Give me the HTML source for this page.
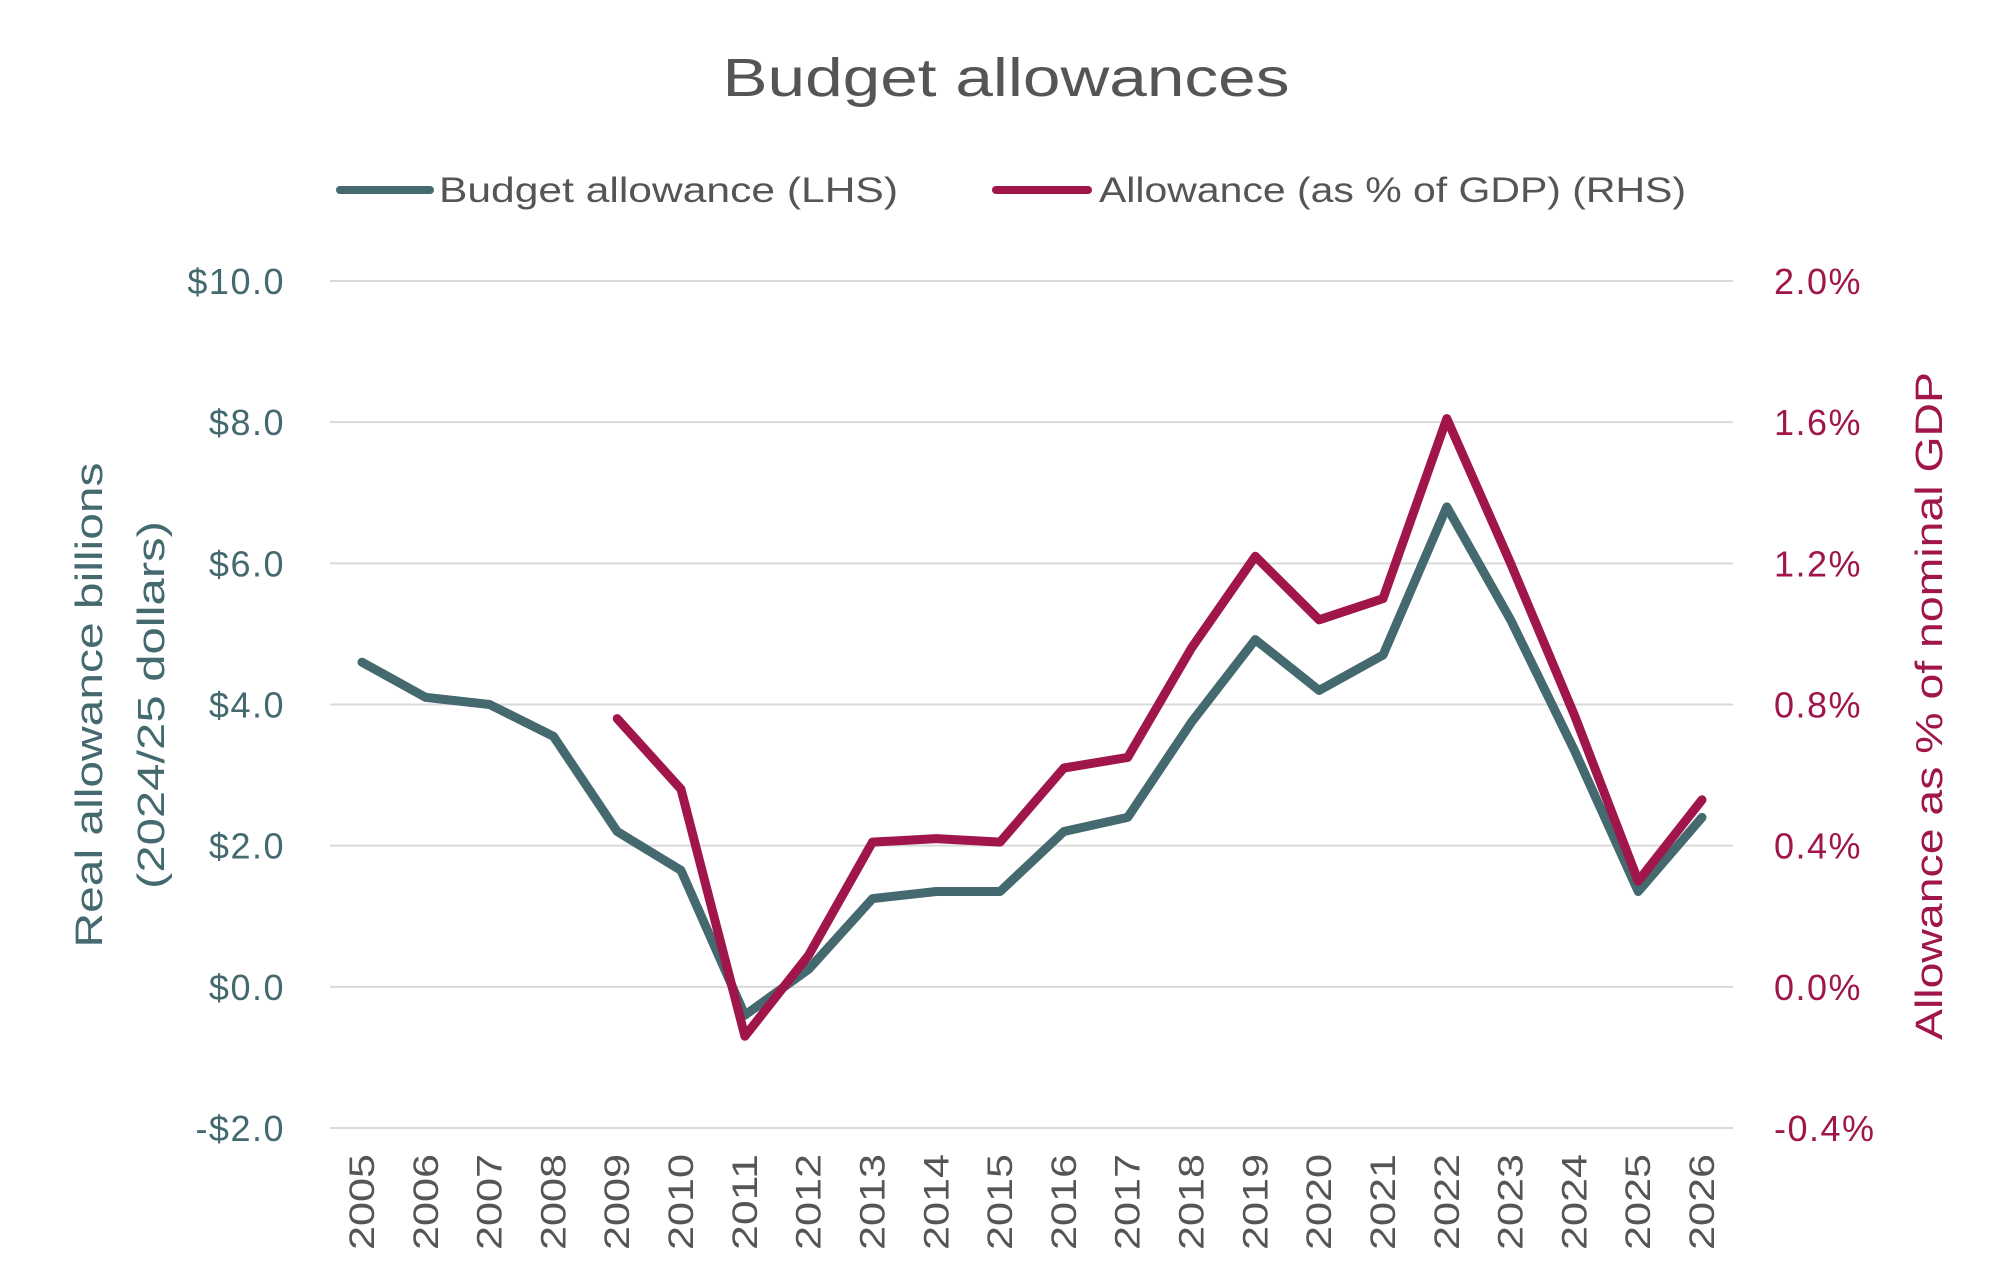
<!DOCTYPE html>
<html><head><meta charset="utf-8"><style>
body{margin:0;background:#fff}
svg{display:block;font-family:"Liberation Sans",sans-serif}
</style></head><body>
<svg id="chart" width="1992" height="1272" viewBox="0 0 1992 1272">
<text x="1006" y="96" text-anchor="middle" font-size="54" fill="#555" textLength="567" lengthAdjust="spacingAndGlyphs">Budget allowances</text>
<g>
<line x1="340" y1="190" x2="430" y2="190" stroke="#44696e" stroke-width="8" stroke-linecap="round"/>
<text x="439" y="202" font-size="35" fill="#555" textLength="459" lengthAdjust="spacingAndGlyphs">Budget allowance (LHS)</text>
<line x1="996" y1="190" x2="1088" y2="190" stroke="#a0154a" stroke-width="8" stroke-linecap="round"/>
<text x="1099" y="202" font-size="35" fill="#555" textLength="587" lengthAdjust="spacingAndGlyphs">Allowance (as % of GDP) (RHS)</text>
</g>
<g id="grid"></g><g id="axes"></g><g id="series"></g>
<text transform="translate(102,705) rotate(-90)" text-anchor="middle" font-size="38" fill="#44696e" textLength="485" lengthAdjust="spacingAndGlyphs">Real allowance billions</text>
<text transform="translate(164,705) rotate(-90)" text-anchor="middle" font-size="38" fill="#44696e" textLength="368" lengthAdjust="spacingAndGlyphs">(2024/25 dollars)</text>
<text transform="translate(1942,706) rotate(-90)" text-anchor="middle" font-size="38" fill="#a0154a" textLength="668" lengthAdjust="spacingAndGlyphs">Allowance as % of nominal GDP</text>
</svg>
<script>
const years=[2005,2006,2007,2008,2009,2010,2011,2012,2013,2014,2015,2016,2017,2018,2019,2020,2021,2022,2023,2024,2025,2026];
const allowance=[4.6,4.1,4.0,3.55,2.2,1.65,-0.4,0.25,1.25,1.35,1.35,2.2,2.4,3.75,4.92,4.2,4.7,6.8,5.2,3.35,1.35,2.4];
const gdpPct=[null,null,null,null,0.76,0.56,-0.14,0.09,0.41,0.42,0.41,0.62,0.65,0.96,1.22,1.04,1.1,1.61,1.2,0.77,0.3,0.53];
const leftTicks=[-2,0,2,4,6,8,10];
const rightTicks=[-0.4,0,0.4,0.8,1.2,1.6,2.0];
const NS="http://www.w3.org/2000/svg";
const X0=362,X1=1702,Ytop=281,Ybot=1128;
const x=i=>X0+(X1-X0)*i/(years.length-1);
const yL=v=>Ybot-(v+2)/12*(Ybot-Ytop);
const yR=v=>Ybot-(v+0.4)/2.4*(Ybot-Ytop);
function mk(t,a,p){const e=document.createElementNS(NS,t);for(const k in a)e.setAttribute(k,a[k]);p.appendChild(e);return e;}
const grid=document.getElementById('grid'),axes=document.getElementById('axes'),series=document.getElementById('series');
leftTicks.forEach(v=>{
 const l=mk('line',{x1:330,x2:1733,y1:yL(v),y2:yL(v),stroke:'#d9d9d9','stroke-width':2},grid);
 
 
 const t=mk('text',{x:285,y:yL(v)+13,'text-anchor':'end','font-size':36,'letter-spacing':1.5,fill:'#44696e'},axes);
 t.textContent=(v<0?'-$':'$')+Math.abs(v).toFixed(1);
 
 
});
rightTicks.forEach(v=>{
 const t=mk('text',{x:1774,y:yR(v)+13,'font-size':36,'letter-spacing':1.5,fill:'#a0154a'},axes);
 t.textContent=v.toFixed(1)+'%';
 
 
});
years.forEach((yr,i)=>{
 const t=mk('text',{transform:`translate(${x(i)+12},1202) rotate(-90)`,'text-anchor':'middle','font-size':35,fill:'#555',textLength:96,lengthAdjust:'spacingAndGlyphs'},axes);
 t.textContent=yr;
 
 
});
function line(vals,yf,color,name){
 const pts=[];vals.forEach((v,i)=>{if(v!==null)pts.push(x(i).toFixed(1)+','+yf(v).toFixed(1));});
 const p=mk('polyline',{points:pts.join(' '),fill:'none',stroke:color,'stroke-width':9,'stroke-linejoin':'round','stroke-linecap':'round'},series);
 
 
}
line(allowance,yL,'#44696e','series-budget-allowance');
line(gdpPct,yR,'#a0154a','series-allowance-pct-gdp');
</script>
</body></html>
